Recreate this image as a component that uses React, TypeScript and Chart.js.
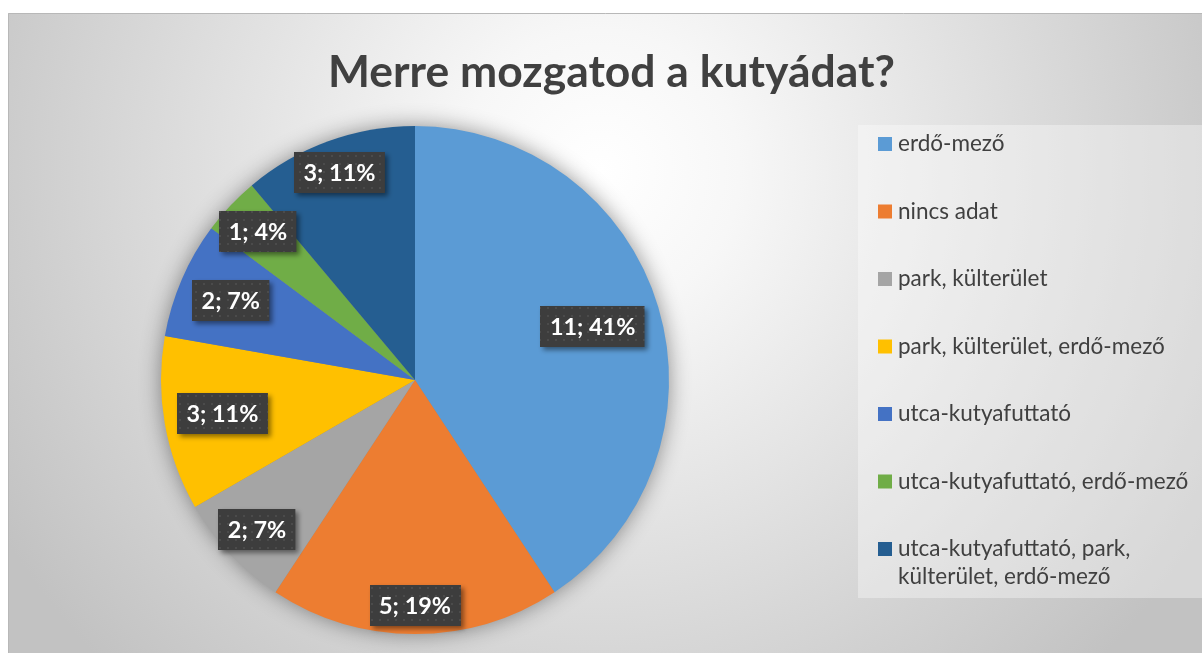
import React, { useEffect, useRef } from "react";
import { Chart, registerables } from "chart.js";

Chart.register(...registerables);

const TITLE = "Merre mozgatod a kutyádat?";
const CATEGORIES = [
  "erdő-mező",
  "nincs adat",
  "park, külterület",
  "park, külterület, erdő-mező",
  "utca-kutyafuttató",
  "utca-kutyafuttató, erdő-mező",
  "utca-kutyafuttató, park, külterület, erdő-mező",
];
const LEGEND_LINES = [
  ["erdő-mező"],
  ["nincs adat"],
  ["park, külterület"],
  ["park, külterület, erdő-mező"],
  ["utca-kutyafuttató"],
  ["utca-kutyafuttató, erdő-mező"],
  ["utca-kutyafuttató, park,", "külterület, erdő-mező"],
];
const VALUES = [11, 5, 2, 3, 2, 1, 3];
const COLORS = ["#5B9BD5", "#ED7D31", "#A5A5A5", "#FFC000", "#4472C4", "#70AD47", "#255E91"];
// label distance from centre as a fraction of the radius (Excel best-fit look)
const LABEL_RADIUS = [0.73, 0.886, 0.855, 0.77, 0.79, 0.85, 0.87];

const FONT = "Lato, 'Open Sans', 'DejaVu Sans', sans-serif";

function fitSize(ctx: CanvasRenderingContext2D, text: string, weight: string, target: number) {
  ctx.font = `${weight} 20px ${FONT}`;
  const w = ctx.measureText(text).width;
  return (20 * target) / w;
}

function makePattern(ctx: CanvasRenderingContext2D) {
  const c = document.createElement("canvas");
  c.width = 8;
  c.height = 8;
  const p = c.getContext("2d")!;
  p.fillStyle = "#3d3d3d";
  p.fillRect(0, 0, 8, 8);
  p.fillStyle = "#4b4b4b";
  p.fillRect(3, 3, 2, 2);
  return ctx.createPattern(c, "repeat")!;
}

const decorPlugin = {
  id: "decor",
  beforeDraw(chart: any) {
    const ctx: CanvasRenderingContext2D = chart.ctx;
    const W = chart.width;
    const H = chart.height;
    ctx.save();
    ctx.fillStyle = "#ffffff";
    ctx.fillRect(0, 0, W, H);
    // chart frame background
    const g = ctx.createRadialGradient(600, 170, 0, 600, 170, 700);
    g.addColorStop(0, "#ffffff");
    g.addColorStop(0.2, "#f7f7f7");
    g.addColorStop(1, "#c2c2c2");
    ctx.fillStyle = g;
    ctx.fillRect(8, 13, W - 8, H - 13);
    ctx.strokeStyle = "#b8b8b8";
    ctx.lineWidth = 1;
    ctx.beginPath();
    ctx.moveTo(8.5, H);
    ctx.lineTo(8.5, 13.5);
    ctx.lineTo(W, 13.5);
    ctx.stroke();
    // legend box
    ctx.fillStyle = "rgba(255,255,255,0.35)";
    ctx.fillRect(858, 125, W - 858, 473);
    // title
    ctx.fillStyle = "#404040";
    const ts = fitSize(ctx, TITLE, "bold", 567);
    ctx.font = `bold ${ts}px ${FONT}`;
    ctx.textAlign = "left";
    ctx.textBaseline = "alphabetic";
    ctx.fillText(TITLE, 328, 87);
    // legend
    const labels = chart.data.labels as string[];
    const colors = chart.data.datasets[0].backgroundColor as string[];
    const ls = fitSize(ctx, "park, külterület, erdő-mező", "normal", 267);
    ctx.font = `${ls}px ${FONT}`;
    labels.forEach((_, i) => {
      const base = 151 + i * 67.5;
      ctx.fillStyle = colors[i];
      ctx.fillRect(878, base - 14, 14, 14);
      ctx.fillStyle = "#404040";
      LEGEND_LINES[i].forEach((line, j) => {
        ctx.fillText(line, 898, base + j * 28);
      });
    });
    ctx.restore();
  },
  beforeDatasetsDraw(chart: any) {
    const meta = chart.getDatasetMeta(0);
    const arc = meta.data[0];
    if (!arc) return;
    const { x, y, outerRadius } = arc.getProps(["x", "y", "outerRadius"], true);
    const ctx: CanvasRenderingContext2D = chart.ctx;
    ctx.save();
    ctx.shadowColor = "rgba(0,0,0,0.45)";
    ctx.shadowBlur = 22;
    ctx.fillStyle = "#888";
    ctx.beginPath();
    ctx.arc(x, y, outerRadius - 1, 0, Math.PI * 2);
    ctx.fill();
    ctx.restore();
  },
  afterDatasetsDraw(chart: any) {
    const ctx: CanvasRenderingContext2D = chart.ctx;
    const meta = chart.getDatasetMeta(0);
    const data = chart.data.datasets[0].data as number[];
    const total = data.reduce((a, b) => a + b, 0);
    const pattern = makePattern(ctx);
    const fs = fitSize(ctx, "3; 11%", "bold", 72);
    meta.data.forEach((el: any, i: number) => {
      const { x, y, startAngle, endAngle, outerRadius } = el.getProps(
        ["x", "y", "startAngle", "endAngle", "outerRadius"],
        true
      );
      const mid = (startAngle + endAngle) / 2;
      const r = outerRadius * LABEL_RADIUS[i];
      const cx = x + Math.cos(mid) * r;
      const cy = y + Math.sin(mid) * r;
      const text = `${data[i]}; ${Math.round((data[i] / total) * 100)}%`;
      ctx.save();
      ctx.font = `bold ${fs}px ${FONT}`;
      const tw = ctx.measureText(text).width;
      const bw = tw + 19;
      const bh = 41;
      const bx = Math.round(cx - bw / 2);
      const by = Math.round(cy - bh / 2);
      ctx.shadowColor = "rgba(0,0,0,0.45)";
      ctx.shadowBlur = 5;
      ctx.shadowOffsetX = 3;
      ctx.shadowOffsetY = 3;
      ctx.fillStyle = pattern;
      ctx.fillRect(bx, by, bw, bh);
      ctx.shadowColor = "transparent";
      ctx.fillStyle = "#ffffff";
      ctx.textAlign = "center";
      ctx.textBaseline = "middle";
      ctx.fillText(text, cx, by + bh / 2 + 1);
      ctx.restore();
    });
  },
};

export default function App() {
  const ref = useRef<HTMLCanvasElement>(null);
  useEffect(() => {
    const chart = new Chart(ref.current!, {
      type: "pie",
      data: {
        labels: CATEGORIES,
        datasets: [
          {
            data: VALUES,
            backgroundColor: COLORS,
            borderWidth: 0,
          },
        ],
      },
      options: {
        animation: false,
        responsive: false,
        layout: { padding: { left: 161, top: 126, right: 533, bottom: 19 } },
        plugins: {
          legend: { display: false },
          title: { display: false },
          tooltip: { enabled: false },
        },
      },
      plugins: [decorPlugin],
    });
    return () => chart.destroy();
  }, []);
  return (
    <div style={{ position: "fixed", left: 0, top: 0, width: 1202, height: 653, background: "#fff" }}>
      <canvas ref={ref} width={1202} height={653} style={{ display: "block", width: 1202, height: 653 }} />
    </div>
  );
}
